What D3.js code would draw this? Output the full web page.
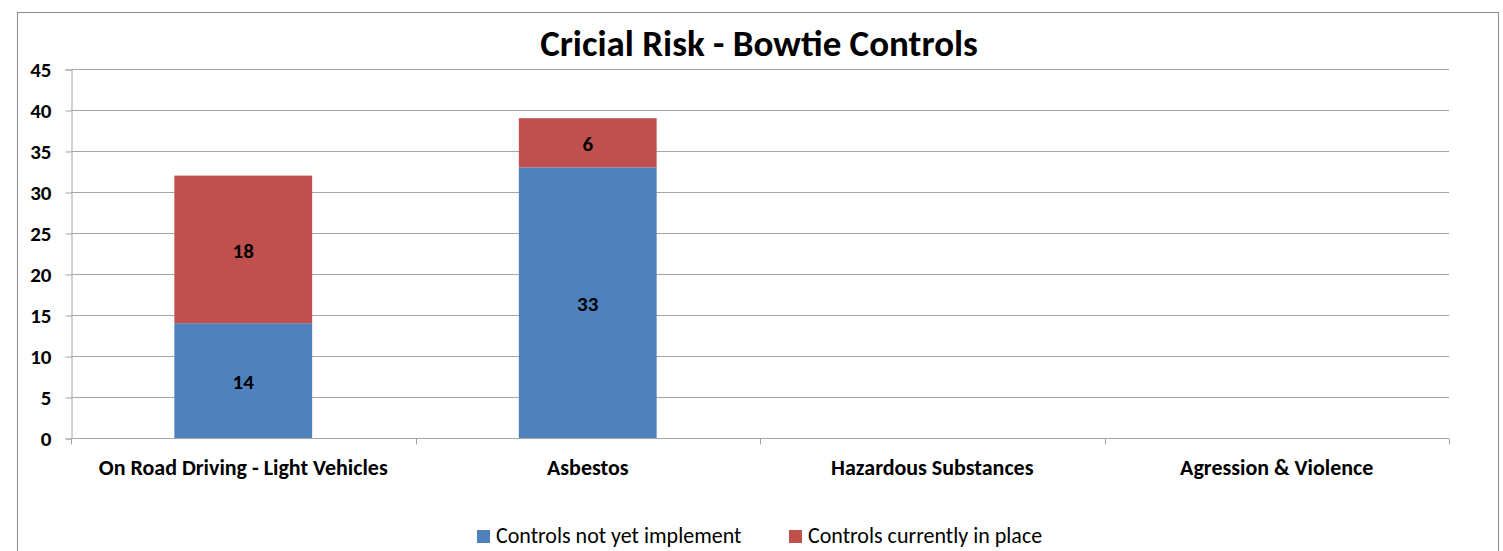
<!DOCTYPE html>
<html>
<head>
<meta charset="utf-8">
<script src="https://cdn.jsdelivr.net/npm/d3@7"></script>
<style>
  html, body { margin: 0; padding: 0; background: #fff; }
  svg { display: block; font-family: Carlito, Lato, "Open Sans", sans-serif; }
</style>
</head>
<body>
<svg id="chart" width="1503" height="551"></svg>
<script>
const categories = ["On Road Driving - Light Vehicles", "Asbestos", "Hazardous Substances", "Agression & Violence"];
const notImplemented = [14, 33, 0, 0];
const inPlace = [18, 6, 0, 0];
const seriesNames = ["Controls not yet implement", "Controls currently in place"];
const seriesColors = ["#4F81BD", "#C0504D"];
const yTicks = [0, 5, 10, 15, 20, 25, 30, 35, 40, 45];

const svg = d3.select("#chart");
const W = 1503, H = 551;
const m = { left: 71, right: 54, top: 69, bottom: 113 };

// chart frame
svg.append("rect")
  .attr("x", 17.5).attr("y", 12.5)
  .attr("width", 1481).attr("height", 560)
  .attr("fill", "#fff").attr("stroke", "#8c8c8c").attr("stroke-width", 1);

const x = d3.scaleBand().domain(categories).range([m.left, W - m.right]).paddingInner(0.6).paddingOuter(0.3);
const xOuter = d3.scaleBand().domain(categories).range([m.left, W - m.right]);
const y = d3.scaleLinear().domain([0, 45]).range([H - m.bottom, m.top]);

// gridlines
svg.append("g").selectAll("line").data(yTicks.filter(t => t > 0)).join("line")
  .attr("x1", m.left).attr("x2", W - m.right)
  .attr("y1", d => Math.round(y(d)) + 0.5).attr("y2", d => Math.round(y(d)) + 0.5)
  .attr("stroke", "#a6a6a6").attr("stroke-width", 1);

// y axis
const yAxis = svg.append("g").attr("transform", `translate(${m.left + 0.5},0.5)`)
  .call(d3.axisLeft(y).tickValues(yTicks).tickSize(6).tickPadding(14));
yAxis.select(".domain").attr("stroke", "#a6a6a6");
yAxis.selectAll(".tick line").attr("stroke", "#a6a6a6");
yAxis.selectAll("text").attr("fill", "#000").attr("font-size", 21).attr("font-weight", "bold")
  .attr("font-family", "Carlito, Lato, sans-serif");

// stacked bars
const stackData = categories.map((c, i) => ({ cat: c, a: notImplemented[i], b: inPlace[i] }));
const stack = d3.stack().keys(["a", "b"])(stackData);
const layers = svg.append("g").selectAll("g").data(stack).join("g")
  .attr("fill", (d, i) => seriesColors[i]);
layers.selectAll("rect").data(d => d.filter(s => s[1] - s[0] > 0)).join("rect")
  .attr("x", d => x(d.data.cat))
  .attr("width", x.bandwidth())
  .attr("y", d => y(d[1]))
  .attr("height", d => y(d[0]) - y(d[1]));

// value labels
layers.selectAll("text").data(d => d.filter(s => s[1] - s[0] > 0)).join("text")
  .attr("x", d => x(d.data.cat) + x.bandwidth() / 2)
  .attr("y", d => (y(d[0]) + y(d[1])) / 2 + 1)
  .attr("dy", "0.35em")
  .attr("text-anchor", "middle")
  .attr("fill", "#000").attr("font-size", 21).attr("font-weight", "bold")
  .text(d => d[1] - d[0]);

// x axis
const xAxisG = svg.append("g").attr("transform", `translate(0,${Math.round(y(0)) + 0.5})`);
xAxisG.append("line").attr("x1", m.left).attr("x2", W - m.right).attr("stroke", "#a6a6a6");
const bounds = categories.map(c => xOuter(c)).concat([W - m.right]);
xAxisG.selectAll("line.tk").data(bounds).join("line").attr("class", "tk")
  .attr("x1", d => Math.round(d) + 0.5).attr("x2", d => Math.round(d) + 0.5)
  .attr("y1", 0).attr("y2", 6).attr("stroke", "#a6a6a6");
xAxisG.selectAll("text").data(categories).join("text")
  .attr("x", d => xOuter(d) + xOuter.bandwidth() / 2)
  .attr("y", 36)
  .attr("text-anchor", "middle")
  .attr("fill", "#000").attr("font-size", 22).attr("font-weight", "bold")
  .text(d => d);

// title
svg.append("text").attr("x", 759).attr("y", 56).attr("text-anchor", "middle")
  .attr("font-size", 37).attr("font-weight", "bold").attr("fill", "#000")
  .text("Cricial Risk - Bowtie Controls");

// legend
const legend = svg.append("g");
const legendItems = [{ x: 477, name: seriesNames[0], color: seriesColors[0] }, { x: 789, name: seriesNames[1], color: seriesColors[1] }];
legendItems.forEach(it => {
  legend.append("rect").attr("x", it.x).attr("y", 530).attr("width", 13).attr("height", 13).attr("fill", it.color);
  legend.append("text").attr("x", it.x + 19).attr("y", 543)
    .attr("font-size", 22).attr("fill", "#000").text(it.name);
});
</script>
</body>
</html>
